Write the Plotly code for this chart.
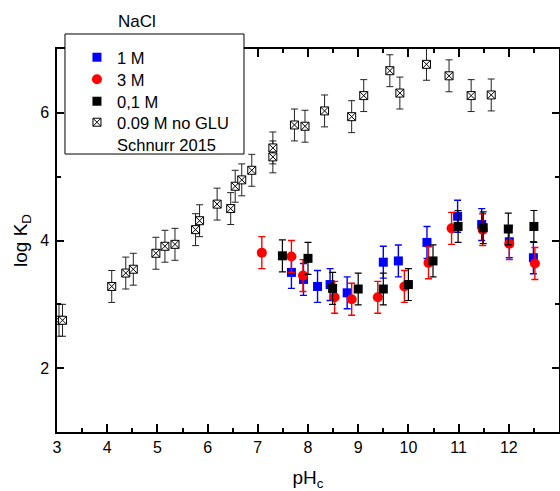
import plotly.graph_objects as go

# ---- data ----
ph_noglu = [3.04, 3.11, 4.09, 4.37, 4.52, 4.97, 5.15, 5.35, 5.76, 5.84, 6.19, 6.46,
            6.55, 6.68, 6.88, 7.30, 7.30, 7.73, 7.94, 8.33, 8.87, 9.11, 9.63, 9.83,
            10.36, 10.81, 11.25, 11.65]
logk_noglu = [2.75, 2.75, 3.28, 3.49, 3.55, 3.80, 3.91, 3.94, 4.17, 4.31, 4.57, 4.50,
              4.85, 4.95, 5.10, 5.45, 5.31, 5.81, 5.79, 6.03, 5.94, 6.27, 6.66, 6.31,
              6.76, 6.58, 6.27, 6.28]
err_noglu = [0.25, 0.25, 0.25, 0.25, 0.25, 0.25, 0.25, 0.25, 0.25, 0.25, 0.25, 0.25,
             0.25, 0.25, 0.25, 0.25, 0.25, 0.25, 0.25, 0.25, 0.25, 0.25, 0.25, 0.25,
             0.25, 0.25, 0.25, 0.25]

ph_1m = [7.67, 7.91, 8.19, 8.44, 8.78, 9.50, 9.80, 10.37, 10.98, 11.46, 12.01, 12.49]
logk_1m = [3.50, 3.39, 3.28, 3.31, 3.18, 3.66, 3.68, 3.97, 4.38, 4.25, 3.98, 3.73]
err_1m = [0.25, 0.25, 0.25, 0.25, 0.25, 0.25, 0.25, 0.25, 0.25, 0.25, 0.25, 0.25]

ph_3m = [7.08, 7.67, 7.90, 8.53, 8.87, 9.39, 9.92, 10.40, 10.86, 11.48, 12.01, 12.52]
logk_3m = [3.81, 3.75, 3.45, 3.11, 3.08, 3.11, 3.28, 3.65, 4.19, 4.17, 3.95, 3.64]
err_3m = [0.25, 0.25, 0.25, 0.25, 0.25, 0.25, 0.25, 0.25, 0.25, 0.25, 0.25, 0.25]

ph_01m = [7.49, 8.00, 8.49, 9.00, 9.50, 10.00, 10.49, 10.99, 11.49, 11.99, 12.50]
logk_01m = [3.76, 3.72, 3.25, 3.24, 3.24, 3.31, 3.68, 4.22, 4.20, 4.18, 4.22]
err_01m = [0.25, 0.25, 0.25, 0.25, 0.25, 0.25, 0.25, 0.25, 0.25, 0.25, 0.25]

FONT = "Liberation Sans, Arial, sans-serif"

fig = go.Figure()

fig.add_trace(go.Scatter(
    x=ph_noglu, y=logk_noglu, mode="markers",
    name="0.09 M no GLU", legend="legend4",
    marker=dict(symbol="square-x", size=8, color="white",
                line=dict(color="black", width=1)),
    error_y=dict(type="data", array=err_noglu, visible=True, color="#222222",
                 thickness=1, width=3.5),
))
fig.add_trace(go.Scatter(
    x=ph_1m, y=logk_1m, mode="markers", name="1 M", legend="legend",
    marker=dict(symbol="square", size=9, color="#0000ff"),
    error_y=dict(type="data", array=err_1m, visible=True, color="#0000ff",
                 thickness=1.4, width=3.5),
))
fig.add_trace(go.Scatter(
    x=ph_3m, y=logk_3m, mode="markers", name="3 M", legend="legend2",
    marker=dict(symbol="circle", size=10, color="#ff0000"),
    error_y=dict(type="data", array=err_3m, visible=True, color="#ff0000",
                 thickness=1.4, width=3.5),
))
fig.add_trace(go.Scatter(
    x=ph_01m, y=logk_01m, mode="markers", name="0,1 M", legend="legend3",
    marker=dict(symbol="square", size=9, color="black"),
    error_y=dict(type="data", array=err_01m, visible=True, color="black",
                 thickness=1.2, width=3.5),
))
# legend-only second line of the "no GLU" entry
fig.add_trace(go.Scatter(
    x=[None], y=[None], mode="markers", name="Schnurr 2015", legend="legend5",
    marker=dict(symbol="square", size=8, color="rgba(0,0,0,0)",
                line=dict(width=0)), hoverinfo="skip",
))

axis_common = dict(
    showline=True, linecolor="black", linewidth=1.5, mirror="ticks",
    ticks="inside", tickcolor="black", showgrid=False, zeroline=False,
    tickfont=dict(family=FONT, size=16, color="black"),
)

fig.update_xaxes(
    range=[3, 13], tick0=0, dtick=1, ticklen=8, tickwidth=1.5,
    minor=dict(ticks="inside", dtick=0.5, ticklen=4, tickcolor="black", showgrid=False),
    title=dict(text="pH<sub>c</sub>", font=dict(family=FONT, size=19, color="black"),
               standoff=25),
    **axis_common,
)
fig.update_yaxes(
    range=[1, 7], tick0=0, dtick=2, ticklen=7, tickwidth=1.5, ticklabelstandoff=3,
    minor=dict(ticks="inside", dtick=1, ticklen=4, tickcolor="black", showgrid=False),
    title=dict(text="log K<sub>D</sub>", font=dict(family=FONT, size=19, color="black"),
               standoff=7),
    **axis_common,
)

fig.add_shape(type="rect", xref="paper", yref="paper",
              x0=0.0159, x1=0.3725, y0=0.7258, y1=1.0392,
              line=dict(color="black", width=1), fillcolor="white", layer="above")

fig.add_annotation(text="NaCl", xref="paper", yref="paper", x=0.159, y=1.073,
                   xanchor="center", yanchor="middle", showarrow=False,
                   font=dict(family=FONT, size=17, color="black"))


def leg(ytop):
    return dict(x=0.0278, y=ytop, xanchor="left", yanchor="top",
                bgcolor="rgba(0,0,0,0)", borderwidth=0, indentation=6,
                font=dict(family=FONT, size=16.5, color="black"))


fig.update_layout(
    width=560, height=491,
    margin=dict(l=57, r=1, t=49, b=59, autoexpand=False),
    paper_bgcolor="white", plot_bgcolor="white",
    font=dict(family=FONT, size=16, color="black"),
    showlegend=True,
    legend=leg(1.0235),
    legend2=leg(0.9660),
    legend3=leg(0.9086),
    legend4=leg(0.8538),
    legend5=leg(0.7963),
)

fig.write_html("out.html", config={"displayModeBar": False},
               post_script="document.body.style.margin='0';")
